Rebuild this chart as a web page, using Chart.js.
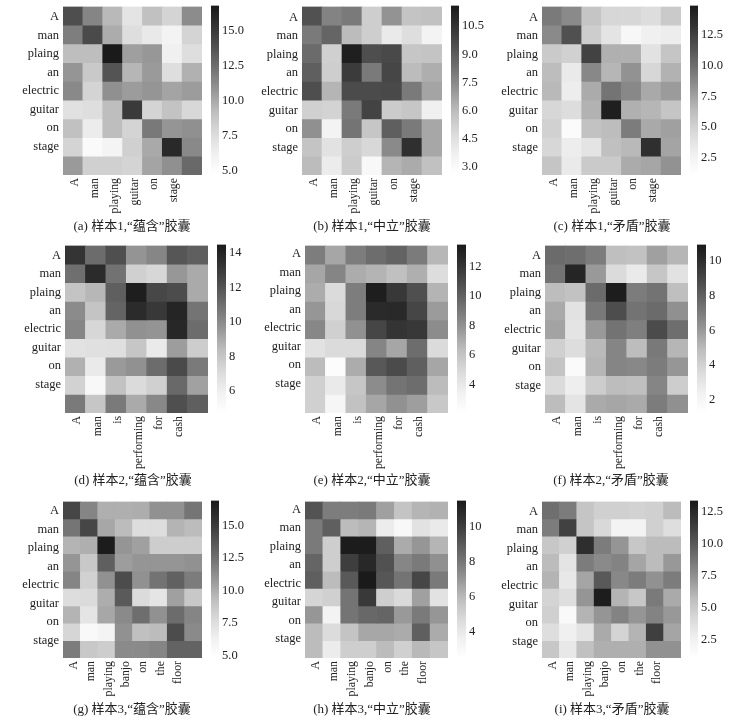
<!DOCTYPE html>
<html lang="zh">
  <head>
    <meta charset="UTF-8" />
    <title>胶囊热力图</title>
    <style>
      body {
        margin: 0;
        background: #fff;
        width: 729px;
        height: 721px;
        position: relative;
        overflow: hidden;
      }
      canvas {
        position: absolute;
        filter: blur(0.35px);
      }
      .caption {
        position: absolute;
        width: 200px;
        text-align: center;
        font: 13px "Liberation Serif", "Noto Sans CJK SC", serif;
        color: #222;
        white-space: nowrap;
      }
    </style>
  </head>
  <body>
    <script src="https://cdn.jsdelivr.net/npm/chart.js@4/dist/chart.umd.min.js"></script>
    <script>
      const rowLabels = ["A", "man", "plaing", "an", "electric", "guitar", "on", "stage"];
      const colsSample1 = ["A", "man", "playing", "guitar", "on", "stage", ""];
      const colsSample2 = ["A", "man", "is", "performing", "for", "cash", ""];
      const colsSample3 = ["A", "man", "playing", "banjo", "on", "the", "floor", ""];

      const captions = [
        "(a) 样本1,“蕴含”胶囊", "(b) 样本1,“中立”胶囊", "(c) 样本1,“矛盾”胶囊",
        "(d) 样本2,“蕴含”胶囊", "(e) 样本2,“中立”胶囊", "(f) 样本2,“矛盾”胶囊",
        "(g) 样本3,“蕴含”胶囊", "(h) 样本3,“中立”胶囊", "(i) 样本3,“矛盾”胶囊",
      ];

      // colour bar range of each panel
      const ranges = [
        [4.7, 16.8], [2.6, 11.6], [1.15, 14.9],
        [4.76, 14.5], [2.1, 13.5], [1.28, 10.93],
        [4.85, 16.9], [2.5, 11.5], [1.15, 13.4],
      ];
      const barTicks = [
        ["5.0", "7.5", "10.0", "12.5", "15.0"],
        ["3.0", "4.5", "6.0", "7.5", "9.0", "10.5"],
        ["2.5", "5.0", "7.5", "10.0", "12.5"],
        ["6", "8", "10", "12", "14"],
        ["4", "6", "8", "10", "12"],
        ["2", "4", "6", "8", "10"],
        ["5.0", "7.5", "10.0", "12.5", "15.0"],
        ["4", "6", "8", "10"],
        ["2.5", "5.0", "7.5", "10.0", "12.5"],
      ];

      const panelA = [
        [14, 11.5, 9.4, 7, 9, 8, 11.2],
        [11.8, 14.2, 9.9, 7.4, 6.7, 5.9, 8],
        [9.2, 9.2, 16.8, 10.4, 10.7, 6.2, 7.4],
        [10.8, 8.6, 13.7, 9.5, 10.6, 7.4, 9.7],
        [11.3, 8, 11, 10.5, 10.8, 10.2, 10.5],
        [7.2, 7.4, 9.2, 15, 8, 8.9, 7.8],
        [9, 6.5, 9.2, 8, 12, 10.8, 11],
        [8, 5.2, 5.8, 8.2, 10, 15.9, 11.3],
        [10.6, 8.2, 8.2, 8, 10.2, 11, 12.7],
      ];
      const panelB = [
        [9.4, 7.7, 8, 5.3, 7.2, 5.7, 5.8],
        [8, 8.7, 6, 5.3, 4, 4.6, 3.5],
        [8.5, 5.2, 11.4, 9.5, 9.7, 5.6, 5.7],
        [8.9, 5.3, 10.2, 8, 9.8, 6, 6.4],
        [9.5, 6.2, 9.6, 9.6, 9.7, 8, 6.7],
        [5.2, 5.1, 8, 9.9, 5.4, 5.6, 3.7],
        [7.3, 3.5, 8.2, 5.6, 8.9, 8, 6.6],
        [5.7, 4.4, 5.3, 4.9, 7.5, 10.7, 6.6],
        [6, 3.9, 5.4, 3.1, 6.2, 6.5, 5.8],
      ];
      const panelC = [
        [9.4, 8.6, 5.8, 4.7, 4.7, 4.3, 5.5],
        [8.6, 11.6, 5.3, 3.8, 2.1, 2.9, 3.1],
        [5.5, 5.1, 12.4, 6.9, 6.9, 3.9, 5.8],
        [6.3, 3.3, 8.7, 6.6, 8.2, 4.7, 6.8],
        [6.5, 3.1, 7.1, 9.7, 8.7, 7.2, 7.8],
        [4.7, 4.3, 6.8, 14.6, 6.9, 6.6, 5.8],
        [5.1, 1.6, 6, 6.3, 9.3, 7.2, 7.6],
        [4.7, 3.1, 3.8, 6.1, 6.5, 13.5, 7.4],
        [5.8, 3.3, 5.5, 5.5, 7.1, 7.3, 8.2],
      ];
      const panelD = [
        [13.3, 11.1, 12.2, 9.7, 10.2, 11.9, 11.6],
        [11, 13.7, 10.9, 7.6, 7.3, 9.6, 9],
        [8.1, 8.6, 11.6, 14.3, 12.5, 12.3, 9],
        [10, 8.1, 11.4, 13.7, 13.1, 14, 10.8],
        [10.2, 7.3, 9, 9.8, 9.7, 13.9, 11.1],
        [6.7, 6.8, 6.9, 8, 6.3, 9.4, 7.7],
        [8.8, 6.3, 9.5, 9.8, 11.1, 12.4, 10.6],
        [7.5, 5.3, 8.2, 7.1, 7.6, 11.2, 9.3],
        [10.6, 8, 10.6, 9, 10.1, 12.2, 11.6],
      ];
      const panelE = [
        [8.8, 7.2, 8.8, 9.5, 9.9, 8.9, 6.6],
        [7.2, 8.5, 7, 6.7, 6.2, 6.9, 4.7],
        [7, 4.8, 8.8, 13.3, 11.9, 10.8, 6.7],
        [7.8, 5, 8.8, 12.6, 12.7, 11.2, 7.6],
        [8.4, 5.4, 8, 11.2, 12.1, 11.9, 8.2],
        [4.4, 4.8, 4.8, 8.5, 7.2, 9.5, 4.8],
        [6.4, 2.4, 7, 10.4, 11, 10.1, 7.2],
        [5.4, 3.9, 5.9, 8.2, 9.2, 9.5, 6.4],
        [5.4, 3, 6.1, 7.2, 8, 7.5, 5.8],
      ];
      const panelF = [
        [7.6, 7.5, 7, 4.8, 4.7, 5.8, 5.1],
        [7.3, 10.4, 6, 3.6, 2.8, 4.5, 3.2],
        [4.9, 4.7, 7.6, 10.8, 7, 7.3, 4.8],
        [5.5, 3.2, 7.1, 8.7, 7.3, 7.6, 6.3],
        [5.7, 3.1, 6, 7.3, 6.9, 8.8, 7.5],
        [4.1, 3.5, 5, 6.7, 4.9, 7.1, 5.1],
        [4.6, 1.7, 5.1, 6.7, 6.6, 7, 6.1],
        [3.6, 2.6, 4.2, 4.9, 4.8, 6.7, 4.2],
        [4.9, 3.1, 5.5, 5.6, 5.5, 7, 6.3],
      ];
      const panelG = [
        [14.5, 11.6, 9.9, 9.9, 10, 11.1, 11.1, 12.3],
        [12.3, 14.5, 10.2, 9.4, 7.6, 7.6, 9.7, 9.4],
        [9.7, 9.9, 16.8, 10.9, 10.5, 8.5, 8.5, 8.5],
        [10.9, 8.8, 13.3, 10.6, 10.9, 10.9, 10.9, 11.1],
        [11.6, 8.3, 11.1, 14.2, 11.1, 12.4, 13.2, 12],
        [7.6, 7.7, 10, 13.5, 7.7, 7.1, 10.5, 8.8],
        [9.7, 7.1, 10.2, 11.4, 12.6, 11.1, 12.7, 11.6],
        [8, 5.5, 6, 11.1, 9.2, 9.4, 14.2, 11.4],
        [12, 8.8, 8.5, 11.4, 11.4, 11.6, 13.1, 13.1],
      ];
      const panelH = [
        [9.2, 7.8, 7.8, 7.9, 6.7, 5.6, 6.1, 6.2],
        [7.9, 8.8, 5.9, 6.1, 3.8, 3, 4.3, 3.9],
        [7.9, 5.2, 11.4, 11.4, 8.8, 6.4, 7, 6.1],
        [8.6, 5.2, 10, 10.9, 9.3, 7.5, 7.9, 7.2],
        [8.8, 5.9, 9, 11.5, 9.1, 8.1, 9.7, 7.9],
        [4.9, 5.1, 8.1, 10.2, 5.2, 4.7, 6.7, 4.3],
        [7, 3.4, 8.1, 8.5, 8.6, 6.9, 7.9, 7],
        [5.9, 4.6, 5.6, 6.5, 6.5, 6.4, 8.8, 6.4],
        [5.9, 3.8, 5.2, 5.2, 5.9, 5.1, 6, 5.5],
      ];
      const panelI = [
        [9, 8.4, 5.3, 4.7, 4.7, 4.6, 4.7, 5.8],
        [8.4, 11.2, 5.3, 4.2, 2.4, 2.4, 4.7, 3.9],
        [5.2, 4.7, 12.2, 8.4, 7.3, 5.2, 5.8, 5.8],
        [5.8, 3.5, 8.4, 7.8, 8.1, 6.7, 5.8, 7.2],
        [6.1, 3.2, 6.7, 10, 7.9, 8.4, 7.5, 8.4],
        [4.5, 3.9, 7.3, 13.2, 6.1, 5.2, 8.5, 6.5],
        [4.7, 1.8, 6.1, 7.3, 8.1, 7.3, 8.1, 7.2],
        [3.9, 2.7, 3.5, 6.5, 4.5, 6.1, 11.3, 6.7],
        [5.2, 3.2, 5.5, 6.3, 6.3, 6.3, 7.5, 7.5],
      ];

      const panels = [panelA, panelB, panelC, panelD, panelE, panelF, panelG, panelH, panelI];
      const columns = [
        colsSample1, colsSample1, colsSample1,
        colsSample2, colsSample2, colsSample2,
        colsSample3, colsSample3, colsSample3,
      ];

      // page layout, in pixels
      const boxes = [
        { x: 63, y: 5, w: 139, h: 170, bar: 211, barW: 8, capX: 132, capY: 215, first: 15.3, pitch: 18.7 },
        { x: 302, y: 5, w: 140, h: 170, bar: 451, barW: 8, capX: 372, capY: 215, first: 16, pitch: 18.75 },
        { x: 542, y: 5, w: 139, h: 170, bar: 690, barW: 8, capX: 612, capY: 215, first: 16, pitch: 18.75 },
        { x: 65, y: 244, w: 143, h: 169, bar: 217, barW: 9, capX: 133, capY: 469, first: 254, pitch: 18.6 },
        { x: 305, y: 244, w: 143, h: 169, bar: 457, barW: 9, capX: 372, capY: 469, first: 252.3, pitch: 18.67 },
        { x: 545, y: 244, w: 143, h: 169, bar: 697, barW: 9, capX: 611, capY: 469, first: 254, pitch: 18.76 },
        { x: 63, y: 500, w: 139, h: 158, bar: 211, barW: 8, capX: 132, capY: 698, first: 509.3, pitch: 18.7 },
        { x: 305, y: 500, w: 143, h: 158, bar: 457, barW: 9, capX: 372, capY: 698, first: 508.3, pitch: 18.6 },
        { x: 542, y: 500, w: 139, h: 158, bar: 690, barW: 8, capX: 612, capY: 698, first: 510, pitch: 18.76 },
      ];

      const serif = { family: "'Liberation Serif', serif", size: 12.5 };
      const inkColor = "#222";
      const PAD = 10;
      const LEFT = 60;
      const RIGHT = 14;
      const BOTTOM = 68;
      const BAR_RIGHT = 32;

      // grey ramp of the colour bar, light to dark
      const ramp = [255, 240, 217, 189, 150, 115, 82, 52, 26];

      function grey(t) {
        const p = Math.min(Math.max(t, 0), 1) * (ramp.length - 1);
        const i = Math.min(Math.floor(p), ramp.length - 2);
        const g = Math.round(ramp[i] + (ramp[i + 1] - ramp[i]) * (p - i));
        return `rgb(${g},${g},${g})`;
      }

      function addCanvas(left, top, width, height) {
        const canvas = document.createElement("canvas");
        canvas.width = width;
        canvas.height = height;
        canvas.style.left = left + "px";
        canvas.style.top = top + "px";
        canvas.style.width = width + "px";
        canvas.style.height = height + "px";
        document.body.appendChild(canvas);
        return canvas;
      }

      function drawHeatmap(index) {
        const box = boxes[index];
        const matrix = panels[index];
        const [lo, hi] = ranges[index];
        const labelMin = -(box.first - box.y) / box.pitch;
        const canvas = addCanvas(box.x - LEFT, box.y - PAD, LEFT + box.w + RIGHT, PAD + box.h + BOTTOM);

        new Chart(canvas, {
          type: "bar",
          data: {
            labels: columns[index],
            datasets: matrix.map((row, r) => ({
              data: row.map(() => [r, r + 1]),
              backgroundColor: row.map((v) => grey((v - lo) / (hi - lo))),
              borderWidth: 0,
              barPercentage: 1,
              categoryPercentage: 1,
              grouped: false,
            })),
          },
          options: {
            responsive: false,
            animation: false,
            layout: { padding: { top: PAD, right: RIGHT } },
            plugins: { legend: { display: false }, tooltip: { enabled: false } },
            scales: {
              x: {
                grid: { display: false, drawTicks: false },
                border: { display: false },
                afterFit: (scale) => {
                  scale.height = BOTTOM;
                },
                ticks: {
                  font: { family: serif.family, size: 11.8 },
                  color: inkColor,
                  autoSkip: false,
                  minRotation: 90,
                  maxRotation: 90,
                  padding: 3,
                  labelOffset: 2,
                },
              },
              y: { display: false, reverse: true, min: 0, max: matrix.length },
              rowNames: {
                position: "left",
                reverse: true,
                min: labelMin,
                max: labelMin + box.h / box.pitch,
                grid: { display: false, drawTicks: false },
                border: { display: false },
                afterBuildTicks: (scale) => {
                  scale.ticks = rowLabels.map((_, i) => ({ value: i }));
                },
                afterFit: (scale) => {
                  scale.width = LEFT;
                },
                ticks: {
                  font: serif,
                  color: inkColor,
                  padding: 4,
                  autoSkip: false,
                  callback: (value) => rowLabels[value],
                },
              },
            },
          },
        });
      }

      function drawColorBar(index) {
        const box = boxes[index];
        const [lo, hi] = ranges[index];
        const tickText = barTicks[index];
        const canvas = addCanvas(box.bar, box.y - PAD, box.barW + BAR_RIGHT, box.h + PAD * 2);

        new Chart(canvas, {
          type: "bar",
          data: {
            labels: [""],
            datasets: [
              {
                data: [[lo, hi]],
                borderWidth: 0,
                barPercentage: 1,
                categoryPercentage: 1,
                backgroundColor: (ctx) => {
                  const area = ctx.chart.chartArea;
                  if (!area) return "#888";
                  const g = ctx.chart.ctx.createLinearGradient(0, area.bottom, 0, area.top);
                  ramp.forEach((_, i) => g.addColorStop(i / (ramp.length - 1), grey(i / (ramp.length - 1))));
                  return g;
                },
              },
            ],
          },
          options: {
            responsive: false,
            animation: false,
            layout: { padding: { top: PAD, bottom: PAD } },
            plugins: { legend: { display: false }, tooltip: { enabled: false } },
            scales: {
              x: { display: false },
              y: {
                position: "right",
                min: lo,
                max: hi,
                grid: { display: false, drawTicks: false },
                border: { display: false },
                afterBuildTicks: (scale) => {
                  scale.ticks = tickText.map((t) => ({ value: parseFloat(t) }));
                },
                afterFit: (scale) => {
                  scale.width = BAR_RIGHT;
                },
                ticks: {
                  font: { family: serif.family, size: 12.5 },
                  color: inkColor,
                  padding: 3,
                  autoSkip: false,
                  callback: (value) => tickText.find((t) => parseFloat(t) === value),
                },
              },
            },
          },
        });
      }

      boxes.forEach((box, i) => {
        drawHeatmap(i);
        drawColorBar(i);
        const cap = document.createElement("div");
        cap.className = "caption";
        cap.textContent = captions[i];
        cap.style.left = box.capX - 100 + "px";
        cap.style.top = box.capY + "px";
        document.body.appendChild(cap);
      });
    </script>
  </body>
</html>
